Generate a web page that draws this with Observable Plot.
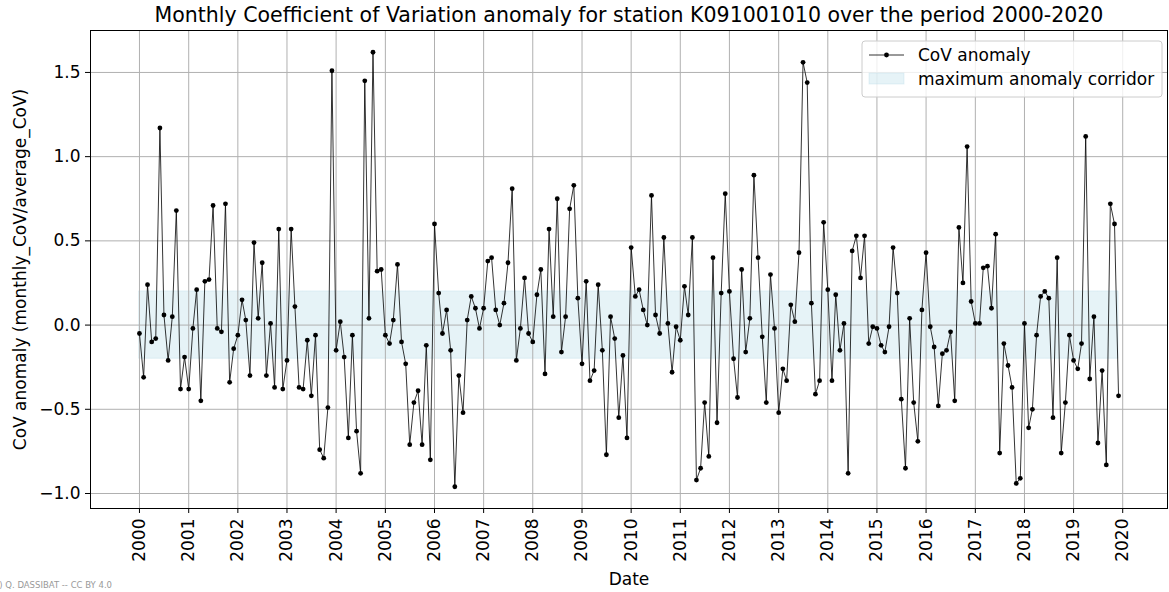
<!DOCTYPE html>
<html>
<head>
<meta charset="utf-8">
<script src="https://cdn.jsdelivr.net/npm/d3@7"></script>
<script src="https://cdn.jsdelivr.net/npm/@observablehq/plot@0.6"></script>
<style>
  html, body { margin: 0; padding: 0; background: #fff; }
  #chart { position: relative; width: 1169px; height: 592px; overflow: hidden; }
  svg { font-family: "DejaVu Sans", sans-serif; }
</style>
</head>
<body>
<div id="chart"></div>
<script>
// Monthly CoV anomaly for station K091001010, one value per month (Jan..Dec)
const startYear = 2000;
const cov2000_2004 = [
  -0.05, -0.31, 0.24, -0.10, -0.08, 1.17, 0.06, -0.21, 0.05, 0.68, -0.38, -0.19,
  -0.38, -0.02, 0.21, -0.45, 0.26, 0.27, 0.71, -0.02, -0.04, 0.72, -0.34, -0.14,
  -0.06, 0.15, 0.03, -0.30, 0.49, 0.04, 0.37, -0.30, 0.01, -0.37, 0.57, -0.38,
  -0.21, 0.57, 0.11, -0.37, -0.38, -0.09, -0.42, -0.06, -0.74, -0.79, -0.49, 1.51,
  -0.15, 0.02, -0.19, -0.67, -0.06, -0.63, -0.88, 1.45, 0.04, 1.62, 0.32, 0.33
];
const cov2005_2009 = [
  -0.06, -0.11, 0.03, 0.36, -0.10, -0.23, -0.71, -0.46, -0.39, -0.71, -0.12, -0.80,
  0.60, 0.19, -0.05, 0.09, -0.15, -0.96, -0.30, -0.52, 0.03, 0.17, 0.10, -0.02,
  0.10, 0.38, 0.40, 0.09, 0.00, 0.13, 0.37, 0.81, -0.21, -0.02, 0.28, -0.05,
  -0.10, 0.18, 0.33, -0.29, 0.57, 0.05, 0.75, -0.16, 0.05, 0.69, 0.83, 0.16,
  -0.23, 0.26, -0.33, -0.27, 0.24, -0.15, -0.77, 0.05, -0.08, -0.55, -0.18, -0.67
];
const cov2010_2014 = [
  0.46, 0.17, 0.21, 0.09, 0.00, 0.77, 0.06, -0.05, 0.52, 0.01, -0.28, -0.01,
  -0.09, 0.23, 0.06, 0.52, -0.92, -0.85, -0.46, -0.78, 0.40, -0.58, 0.19, 0.78,
  0.20, -0.20, -0.43, 0.33, -0.16, 0.04, 0.89, 0.40, -0.07, -0.46, 0.30, -0.02,
  -0.52, -0.26, -0.33, 0.12, 0.02, 0.43, 1.56, 1.44, 0.13, -0.41, -0.33, 0.61,
  0.21, -0.33, 0.18, -0.15, 0.01, -0.88, 0.44, 0.53, 0.28, 0.53, -0.11, -0.01
];
const cov2015_2019 = [
  -0.02, -0.12, -0.16, -0.01, 0.46, 0.19, -0.44, -0.85, 0.04, -0.46, -0.69, 0.09,
  0.43, -0.01, -0.13, -0.48, -0.17, -0.15, -0.04, -0.45, 0.58, 0.25, 1.06, 0.14,
  0.01, 0.01, 0.34, 0.35, 0.10, 0.54, -0.76, -0.11, -0.24, -0.37, -0.94, -0.91,
  0.01, -0.61, -0.50, -0.06, 0.17, 0.20, 0.16, -0.55, 0.40, -0.76, -0.46, -0.06,
  -0.21, -0.26, -0.11, 1.12, -0.32, 0.05, -0.70, -0.27, -0.83, 0.72, 0.60, -0.42
];
// maximum anomaly corridor (lower, upper)
const corridor = [-0.2, 0.2];
const yTicks = [-1.0, -0.5, 0.0, 0.5, 1.0, 1.5];
const tickYears = d3.range(2000, 2021);

const values = [...cov2000_2004, ...cov2005_2009, ...cov2010_2014, ...cov2015_2019];
const data = values.map((v, i) => ({
  date: new Date(Date.UTC(startYear + Math.floor(i / 12), i % 12, 1)),
  cov: v
}));
const tickDates = tickYears.map(y => new Date(Date.UTC(y, 0, 1)));

// 5% padding around the data, like the default axes margins
const [x0, x1] = d3.extent(data, d => +d.date);
const padX = (x1 - x0) * 0.05;
const [y0, y1] = d3.extent(values);
const padY = (y1 - y0) * 0.05;

const W = 1169, H = 592;
const mL = 90, mR = 2, mT = 30, mB = 84;
const font = "DejaVu Sans, sans-serif";
const fs = 17;

const chart = Plot.plot({
  width: W,
  height: H,
  marginLeft: mL,
  marginRight: mR,
  marginTop: mT,
  marginBottom: mB,
  style: { fontFamily: font, background: "#fff", overflow: "hidden" },
  x: { type: "utc", domain: [new Date(x0 - padX), new Date(x1 + padX)] },
  y: { domain: [y0 - padY, y1 + padY] },
  marks: [
    Plot.areaY(data, {
      x: "date", y1: () => corridor[0], y2: () => corridor[1],
      fill: "lightblue", fillOpacity: 0.3,
      stroke: "lightblue", strokeOpacity: 0.3, strokeWidth: 1
    }),
    Plot.gridX(tickDates, { stroke: "#b0b0b0", strokeOpacity: 1, strokeWidth: 1 }),
    Plot.gridY(yTicks, { stroke: "#b0b0b0", strokeOpacity: 1, strokeWidth: 1 }),
    Plot.line(data, { x: "date", y: "cov", stroke: "black", strokeWidth: 0.8 }),
    Plot.dot(data, { x: "date", y: "cov", r: 2.4, fill: "black", stroke: "none" }),
    Plot.frame({ stroke: "black", strokeWidth: 1 }),
    Plot.axisX(tickDates, {
      tickFormat: d3.utcFormat("%Y"), tickRotate: -90, tickSize: 5, tickPadding: 5,
      fontSize: fs, label: null, stroke: "black", strokeWidth: 1
    }),
    Plot.axisY(yTicks, {
      tickFormat: d3.format(".1f"), tickSize: 5, tickPadding: 5,
      fontSize: fs, label: null, stroke: "black", strokeWidth: 1
    }),
    // title and axis labels
    Plot.text(["Monthly Coefficient of Variation anomaly for station K091001010 over the period 2000-2020"], {
      frameAnchor: "top", dy: -9, fontSize: 20.5, fill: "black", lineAnchor: "bottom"
    }),
    Plot.text(["Date"], {
      frameAnchor: "bottom", dy: 76, fontSize: fs, fill: "black", lineAnchor: "bottom"
    }),
    Plot.text(["CoV anomaly (monthly_CoV/average_CoV)"], {
      frameAnchor: "left", dx: -70, rotate: -90, fontSize: fs, fill: "black",
      textAnchor: "middle", lineAnchor: "middle"
    })
  ]
});

document.getElementById("chart").appendChild(chart);

// legend box in the upper right corner of the axes
const svg = d3.select(chart);
const lg = svg.append("g")
  .attr("transform", `translate(${W - mR - 305},${mT + 11})`)
  .attr("font-family", font)
  .attr("text-anchor", "start");
lg.append("rect")
  .attr("x", 0).attr("y", 0).attr("width", 300).attr("height", 56)
  .attr("rx", 3).attr("fill", "white").attr("fill-opacity", 0.8)
  .attr("stroke", "#cccccc").attr("stroke-width", 1);
lg.append("line")
  .attr("x1", 7).attr("x2", 42).attr("y1", 14).attr("y2", 14)
  .attr("stroke", "black").attr("stroke-width", 0.8);
lg.append("circle")
  .attr("cx", 24.5).attr("cy", 14).attr("r", 2.4).attr("fill", "black");
lg.append("text")
  .attr("x", 56).attr("y", 14).attr("dy", "0.35em")
  .attr("text-anchor", "start")
  .attr("font-size", fs).attr("fill", "black").text("CoV anomaly");
lg.append("rect")
  .attr("x", 7).attr("y", 32).attr("width", 35).attr("height", 11)
  .attr("fill", "lightblue").attr("fill-opacity", 0.3)
  .attr("stroke", "lightblue").attr("stroke-opacity", 0.3);
lg.append("text")
  .attr("x", 56).attr("y", 38).attr("dy", "0.35em")
  .attr("text-anchor", "start")
  .attr("font-size", fs).attr("fill", "black").text("maximum anomaly corridor");

// credit line, bottom left
svg.append("text")
  .attr("x", 112).attr("y", 588)
  .attr("text-anchor", "end")
  .attr("font-family", font).attr("font-size", 8.5).attr("fill", "#999")
  .text("(c) Q. DASSIBAT -- CC BY 4.0");
</script>
</body>
</html>
